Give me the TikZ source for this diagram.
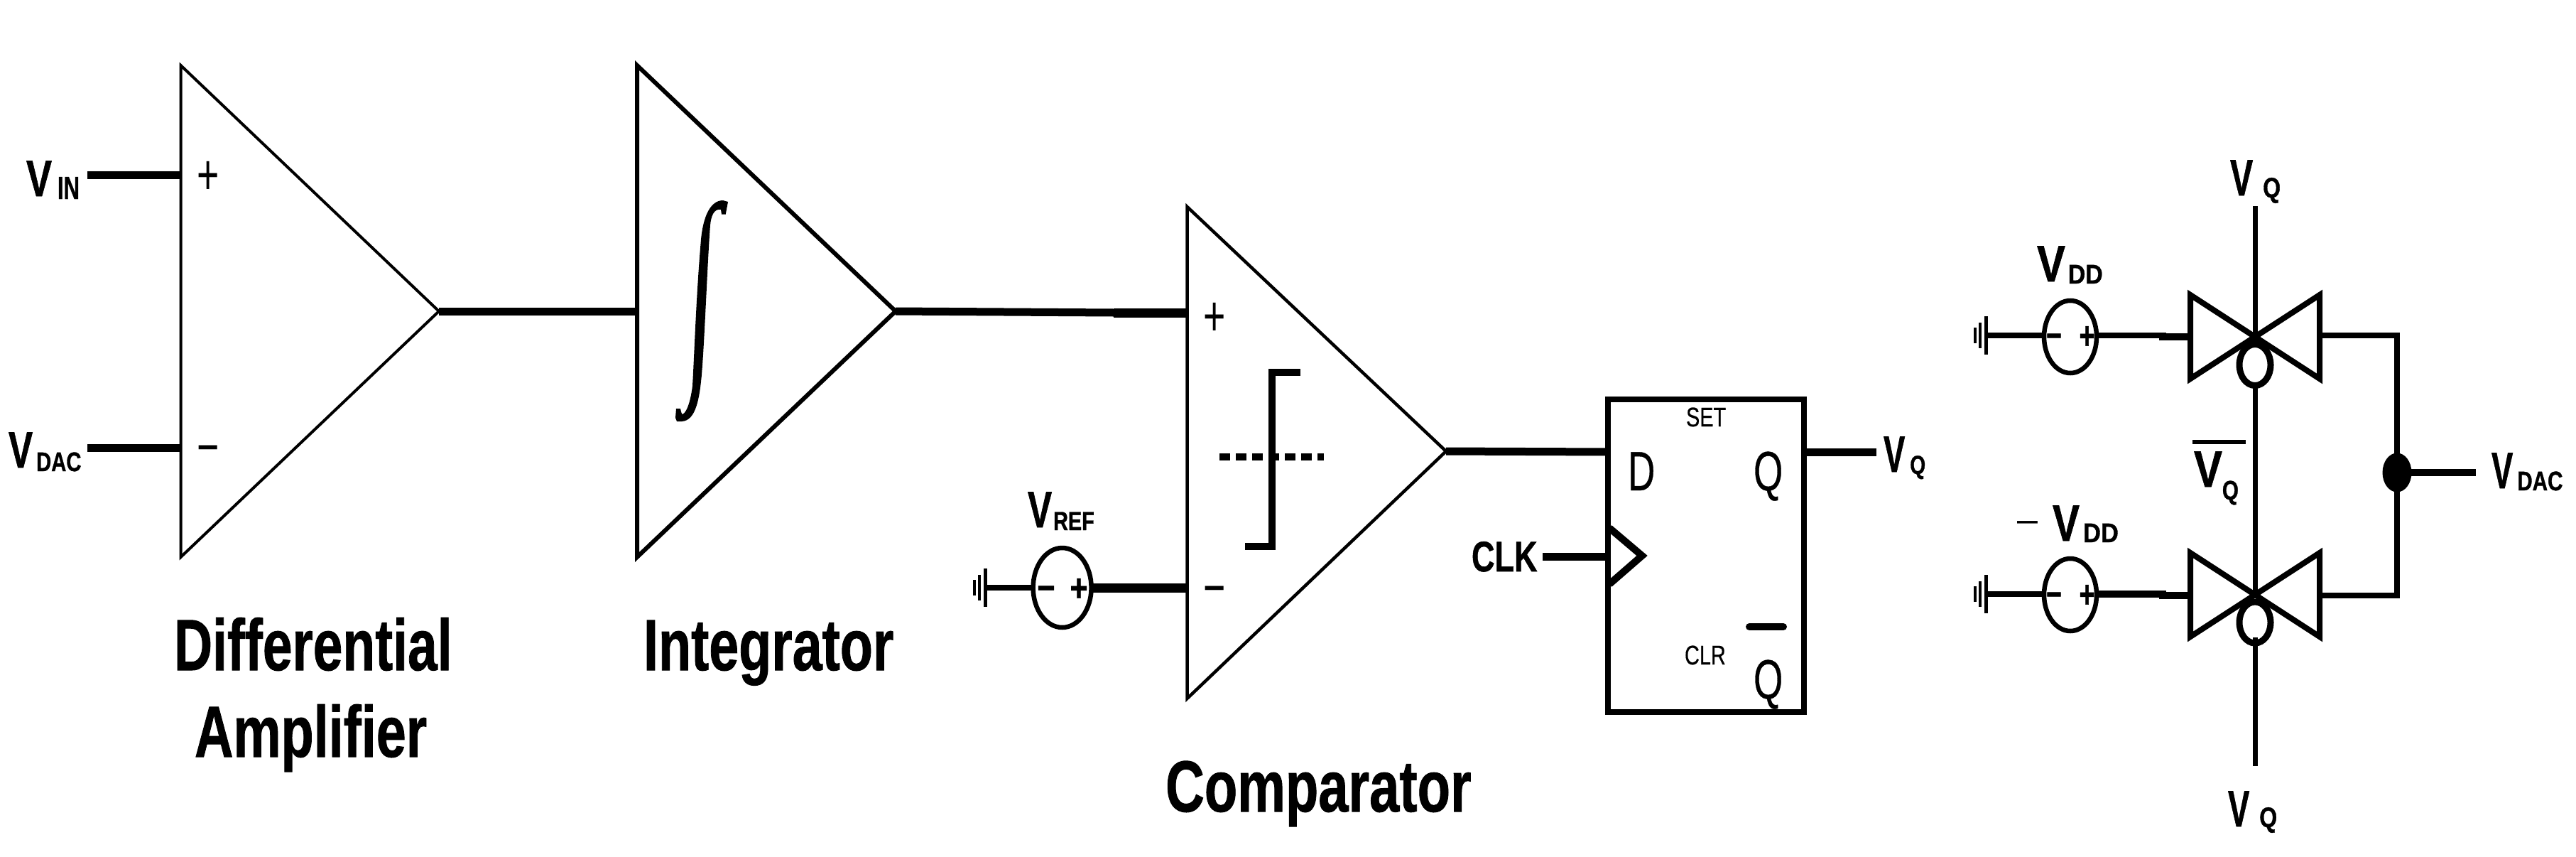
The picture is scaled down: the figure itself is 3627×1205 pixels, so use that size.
\documentclass[tikz,border=0pt]{standalone}
\usepackage{fontspec}
\usepackage{graphicx}
\setmainfont{Liberation Sans}[BoldFeatures={FakeBold=1}]
\usetikzlibrary{shapes.geometric}
\tikzset{
  lab/.style={inner sep=0pt,outer sep=0pt,anchor=base west,font=\bfseries},
  plain/.style={inner sep=0pt,outer sep=0pt,anchor=base west},
  sym/.style={inner sep=0pt,outer sep=0pt,anchor=center},
  symb/.style={inner sep=0pt,outer sep=0pt,anchor=center,font=\bfseries},
  wire/.style={line width=11pt,line cap=butt},
  heavy/.style={line width=13pt,line cap=butt},
  thinw/.style={line width=8pt,line cap=butt},
  amp/.style={line width=4.5pt,line join=miter},
  gate/.style={line width=8pt,line join=miter},
  src/.style={ellipse,draw,line width=6.5pt,inner sep=0pt,outer sep=0pt,minimum width=74pt,minimum height=102pt},
  bub/.style={ellipse,draw,fill=white,line width=9pt,inner sep=0pt,outer sep=0pt,minimum width=44pt,minimum height=58pt}
}
% name, x, baseline, V x-scale, sub, sub size, sub x-scale, kern, drop
\newcommand{\lbl}[9]{\node[lab] (#1) at (#2,#3) {\scalebox{#4}[1]{\fontsize{72}{72}\selectfont V}\kern#8pt\raisebox{-#9pt}{\scalebox{#7}[1]{\fontsize{#6}{#6}\selectfont #5}}};}
% name, x, baseline, text, x-scale
\newcommand{\captxt}[5]{\node[lab] (#1) at (#2,#3) {\scalebox{#5}[1]{\fontsize{102}{102}\selectfont #4}};}
% name, x, baseline, text, size, x-scale
\newcommand{\thintxt}[6]{\node[plain] (#1) at (#2,#3) {\scalebox{#6}[1]{\fontsize{#5}{#5}\selectfont\addfontfeature{FakeBold=0.5}#4}};}
% name, x, y, symbol, size, x-scale
\newcommand{\symbt}[6]{\node[sym] (#1) at (#2,#3) {\scalebox{#6}[1]{\fontsize{#5}{#5}\selectfont #4}};}
\newcommand{\symbb}[6]{\node[symb] (#1) at (#2,#3) {\scalebox{#6}[1]{\fontsize{#5}{#5}\selectfont #4}};}
% name, line end x, y
\newcommand{\gnd}[3]{%
  \coordinate (#1) at (#2,#3);
  \draw[line width=5pt] (#2,#3-27) -- (#2,#3+27);
  \draw[line width=4pt] (#2-8,#3-18) -- (#2-8,#3+18);
  \draw[line width=4pt] (#2-15,#3-11) -- (#2-15,#3+11);
}
\begin{document}
\begin{tikzpicture}[x=1pt,y=-1pt]
\useasboundingbox[fill=white] (0,0) rectangle (3627,1205);

% --- Differential amplifier
\coordinate (a1t) at (254.5,92);
\coordinate (a1b) at (254.5,784);
\coordinate (a1o) at (618,438);
\coordinate (a1p) at (254.5,246);
\coordinate (a1m) at (254.5,630);
\draw[line width=4pt] (a1t) -- (a1o) -- (a1b) -- cycle;
\symbt{a1plus}{293}{250}{+}{80}{.67}
\symbt{a1minus}{293}{642}{−}{80}{.67}
\lbl{vin}{37}{276}{.75}{IN}{45}{.69}{8}{4}
\lbl{vdacl}{12}{658}{.71}{DAC}{38}{.77}{5}{5}
\coordinate (vinE) at (123,246);
\coordinate (vdacE) at (123,630);
\draw[wire] (vinE) -- (a1p);
\draw[wire] (vdacE) -- (a1m);
\captxt{capdiff}{245}{943}{Differential}{.735}
\captxt{capamp}{274}{1065}{Amplifier}{.74}

% --- Integrator
\coordinate (a2t) at (897,92);
\coordinate (a2b) at (897,784);
\coordinate (a2o) at (1261,438);
\coordinate (a2i) at (897,438);
\draw[line width=6pt] (a2t) -- (a2o) -- (a2b) -- cycle;
\draw[wire] (a1o) -- (a2i);
\fill (1025,284) -- (1021.7,301.7) -- (1016,301.7) -- (1015,295)
  .. controls (1005,293) and (1001,305) .. (1000,317)
  .. controls (996,370) and (992,480) .. (988,527)
  .. controls (985,560) and (980,592) .. (960,593)
  -- (953,593) -- (951,588) -- (952,575) -- (958,575)
  .. controls (959,580) and (960,583) .. (961,583)
  .. controls (968,580) and (973,560) .. (975,543)
  .. controls (978,490) and (980,420) .. (987,337)
  .. controls (990,305) and (1000,282) .. (1018,282) -- cycle;
\captxt{capint}{906}{943}{Integrator}{.74}

% --- Comparator
\coordinate (a3t) at (1671.5,291);
\coordinate (a3b) at (1671.5,983);
\coordinate (a3o) at (2036,635);
\coordinate (a3p) at (1671.5,440);
\coordinate (a3m) at (1671.5,827);
\coordinate (a3pj) at (1568,440);
\draw[amp] (a3t) -- (a3o) -- (a3b) -- cycle;
\draw[wire] (a2o) -- (a3pj);
\draw[heavy] (a3pj) -- (a3p);
\symbt{a3plus}{1710}{449}{+}{80}{.67}
\symbt{a3minus}{1710}{840}{−}{80}{.67}
\draw[line width=10pt,line join=miter] (1831,523.5) -- (1791,523.5) -- (1791,769) -- (1753,769);
\draw[line width=10pt,dash pattern=on 15pt off 8pt] (1717,643) -- (1864,643);
\captxt{capcomp}{1641}{1142}{Comparator}{.745}

% VREF source
\node[src,minimum width=82pt,minimum height=112pt] (vsr) at (1495.6,827) {};
\gnd{gr}{1387}{827}
\draw[thinw] (gr) -- (vsr.west);
\symbb{vsrm}{1473}{835}{−}{54}{.8}
\symbb{vsrp}{1519}{830}{+}{54}{.8}
\draw[heavy] (vsr.east) -- (a3m);
\lbl{vref}{1447}{742}{.71}{REF}{37}{.78}{2}{4}

% --- Flip-flop
\node[rectangle,draw,line width=8pt,inner sep=0pt,outer sep=0pt,minimum width=275.5pt,minimum height=440pt] (ff) at (2401.75,782) {};
\coordinate (ffd) at (2264,636);
\coordinate (ffq) at (2539.5,636);
\coordinate (ffc) at (2264,783);
\coordinate (ffqe) at (2642,636);
\coordinate (clkE) at (2172,783);
\draw[wire] (a3o) -- (ffd);
\draw[wire] (ffq) -- (ffqe);
\draw[wire] (clkE) -- (ffc);
\draw[line width=10pt,line join=miter] (2266,743) -- (2312,782) -- (2266,822);
\thintxt{ffD}{2292}{690}{D}{78}{.68}
\thintxt{ffQ}{2469}{690}{Q}{78}{.68}
\thintxt{ffNQ}{2469}{983}{Q}{78}{.68}
\draw[line width=10pt,line cap=round] (2463,882) -- (2511,882);
\thintxt{ffset}{2374}{600}{SET}{38}{.76}
\thintxt{ffclr}{2372}{935}{CLR}{38}{.76}
\node[lab] (clk) at (2072,804) {\scalebox{.75}[1]{\fontsize{60}{60}\selectfont CLK}};
\lbl{vqff}{2652}{664}{.63}{Q}{37}{.76}{7}{3}

% --- Analog switches
\coordinate (c1) at (3175,474);
\coordinate (c2) at (3175,837);
\coordinate (topq) at (3175,290);
\coordinate (botq) at (3175,1078);
\draw[line width=7pt] (topq) -- (c1);
\draw[line width=7pt] (c1) -- (c2);
\draw[gate] (3084,415) -- (3084,533) -- (c1) -- cycle;
\draw[gate] (3266,415) -- (3266,533) -- (c1) -- cycle;
\draw[gate] (3084,778) -- (3084,896) -- (c2) -- cycle;
\draw[gate] (3266,778) -- (3266,896) -- (c2) -- cycle;
\node[bub] (b1) at (3175,513.5) {};
\node[bub] (b2) at (3175,876) {};
\draw[line width=7pt] (3175,897) -- (botq);

% sources
\node[src] (vs1) at (2915,474) {};
\node[src] (vs2) at (2915,837) {};
\gnd{g1}{2796}{472}
\gnd{g2}{2796}{836}
\draw[thinw] (g1) -- (vs1.west |- g1);
\draw[thinw] (g2) -- (vs2.west |- g2);
\symbb{m1}{2892}{480}{−}{54}{.7}
\symbb{p1}{2938.5}{475}{+}{54}{.7}
\symbb{m2}{2892}{844}{−}{54}{.7}
\symbb{p2}{2938.5}{839}{+}{54}{.7}
\draw[line width=8pt] (vs1.east |- g1) -- (3050,472);
\draw[line width=10pt] (3040,474) -- (3082,474);
\draw[line width=10pt] (vs2.east |- g2) -- (3050,836);
\draw[line width=10pt] (3040,838) -- (3082,838);

% output network
\coordinate (r1) at (3268,472);
\coordinate (r2) at (3268,838);
\coordinate (rc1) at (3375,472);
\coordinate (rc2) at (3375,838);
\coordinate (vdacS) at (3486,665);
\draw[line width=8.5pt,line join=miter] (r1) -- (rc1) -- (rc2) -- (r2);
\node[ellipse,fill=black,inner sep=0pt,outer sep=0pt,minimum width=41pt,minimum height=55pt] (dot) at (3375,665) {};
\draw[line width=10pt] (dot.center) -- (vdacS);

% labels
\lbl{vqt}{3140}{275}{.67}{Q}{40}{.8}{14}{3}
\lbl{vqb}{3137}{1163}{.63}{Q}{40}{.8}{14}{1}
\lbl{vdacr}{3508}{687}{.63}{DAC}{38}{.78}{6}{3}
\lbl{vdd1}{2868}{396}{.83}{DD}{38}{.89}{4}{3}
\lbl{vdd2}{2890}{761}{.79}{DD}{38}{.91}{5}{2}
\symbt{neg}{2854.5}{741}{–}{52}{1}
\lbl{vqbar}{3089}{685}{.83}{Q}{38}{.78}{0}{18}
\draw[line width=6pt] (3087,622) -- (3162,622);
\end{tikzpicture}
\end{document}
